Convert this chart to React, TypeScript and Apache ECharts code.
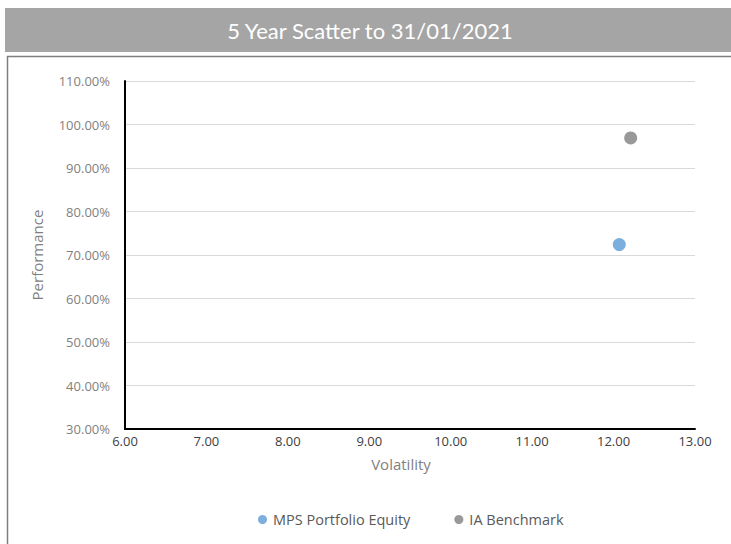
import React, { useEffect, useRef } from "react";
import * as echarts from "echarts";

const titleText = "5 Year Scatter to 31/01/2021";
const seriesNames = ["MPS Portfolio Equity", "IA Benchmark"];
const mpsPoint = [12.07, 72.4];
const iaPoint = [12.21, 96.9];
const xTicks = { min: 6, max: 13, interval: 1 };
const yTicks = { min: 30, max: 110, interval: 10 };

export default function App() {
  const ref = useRef<HTMLDivElement>(null);
  useEffect(() => {
    if (!ref.current) return;
    const chart = echarts.init(ref.current, undefined, { renderer: "svg" });
    const font = "'Open Sans', 'Liberation Sans', sans-serif";
    chart.setOption({
      animation: false,
      backgroundColor: "#ffffff",
      textStyle: { fontFamily: font },
      graphic: [
        { type: "rect", shape: { x: 5, y: 8, width: 726, height: 44 }, style: { fill: "#a5a5a5" }, silent: true },
        {
          type: "text",
          x: 370,
          y: 30,
          style: {
            text: titleText,
            fill: "#ffffff",
            font: "22px Lato, 'Open Sans', sans-serif",
            textAlign: "center",
            textVerticalAlign: "middle",
          },
          silent: true,
        },
        { type: "line", shape: { x1: 7, y1: 56.5, x2: 731, y2: 56.5 }, style: { stroke: "#7f7f7f", lineWidth: 1.5 }, silent: true },
        { type: "line", shape: { x1: 7.5, y1: 56, x2: 7.5, y2: 544 }, style: { stroke: "#7f7f7f", lineWidth: 1.5 }, silent: true },
      ],
      grid: { left: 125, right: 36, top: 81, bottom: 115, containLabel: false },
      xAxis: {
        type: "value",
        min: xTicks.min,
        max: xTicks.max,
        interval: xTicks.interval,
        name: "Volatility",
        nameLocation: "middle",
        nameGap: 27,
        nameTextStyle: { color: "#7f7f7f", fontSize: 15, fontFamily: font, padding: [0, 18, 0, 0] },
        axisLine: { show: true, onZero: false, lineStyle: { color: "#000000", width: 2 } },
        axisTick: { show: false },
        splitLine: { show: false },
        axisLabel: {
          color: "#404040",
          fontSize: 13,
          margin: 5,
          fontFamily: font,
          formatter: (v: number) => v.toFixed(2),
        },
      },
      yAxis: {
        type: "value",
        min: yTicks.min,
        max: yTicks.max,
        interval: yTicks.interval,
        name: "Performance",
        nameLocation: "middle",
        nameGap: 81,
        nameTextStyle: { color: "#7f7f7f", fontSize: 15, fontFamily: font },
        axisLine: { show: true, onZero: false, lineStyle: { color: "#000000", width: 2 } },
        axisTick: { show: false },
        splitLine: { show: true, lineStyle: { color: "#d9d9d9", width: 1 } },
        axisLabel: {
          color: "#7f7f7f",
          fontSize: 13,
          margin: 15,
          fontFamily: font,
          formatter: (v: number) => v.toFixed(2) + "%",
        },
      },
      legend: {
        bottom: 12,
        left: 253,
        icon: "circle",
        itemWidth: 9,
        itemHeight: 9,
        itemGap: 44,
        textStyle: { color: "#595959", fontSize: 14.5, fontFamily: font, padding: [0, 0, 0, 1] },
        data: seriesNames,
      },
      series: [
        {
          name: seriesNames[0],
          type: "scatter",
          symbolSize: 13,
          itemStyle: { color: "#5b9bd5" },
          data: [mpsPoint],
        },
        {
          name: seriesNames[1],
          type: "scatter",
          symbolSize: 13,
          itemStyle: { color: "#7f7f7f" },
          data: [iaPoint],
        },
      ],
    });
    return () => chart.dispose();
  }, []);
  return (
    <div
      ref={ref}
      style={{ position: "fixed", left: 0, top: 0, width: 731, height: 544 }}
    />
  );
}
